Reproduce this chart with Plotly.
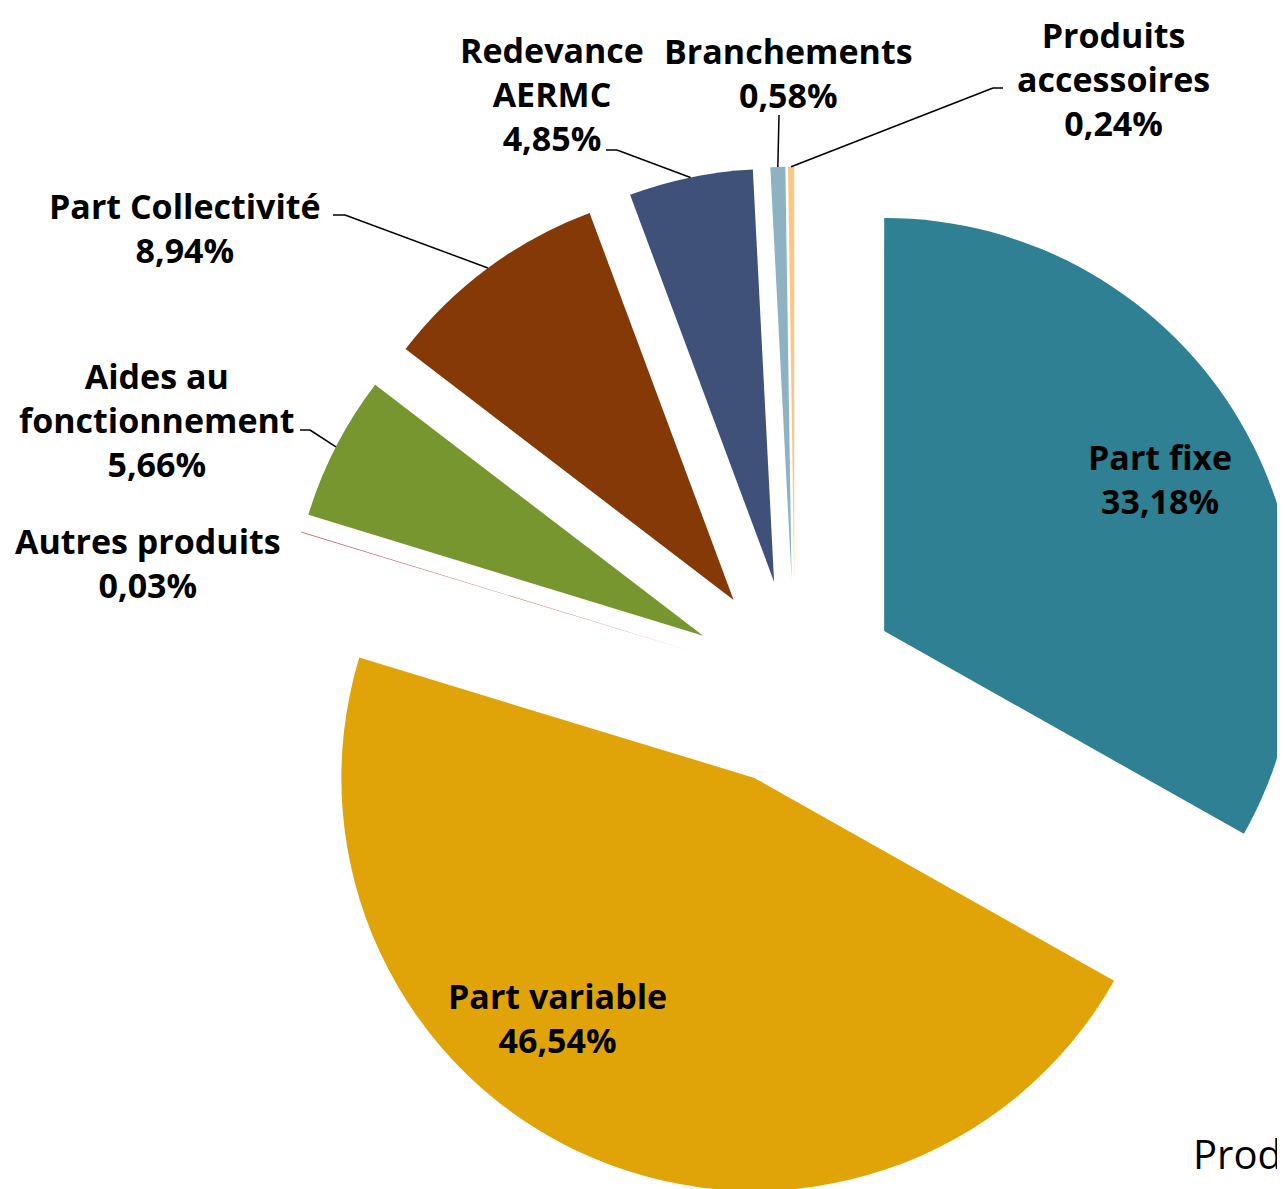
import math
import plotly.graph_objects as go

# ---- data ----
labels = ["Part fixe", "Part variable", "Autres produits", "Aides au fonctionnement",
          "Part Collectivité", "Redevance AERMC", "Branchements", "Produits accessoires"]
values = [33.18, 46.54, 0.03, 5.66, 8.94, 4.85, 0.58, 0.24]
pct_text = ["33,18%", "46,54%", "0,03%", "5,66%", "8,94%", "4,85%", "0,58%", "0,24%"]
colors = ["#2E8092", "#E1A408", "#C0504D", "#77962F", "#843906", "#3F5079", "#8DB3C3", "#FAC882"]
title_fragment = "Prod"

# ---- layout geometry (pixels, in screenshot coordinates) ----
W, H = 1312, 1200
OFF = 8  # page body margin
R = 413.0
PULL = 0.25
CX, CY = 795.0, 683.0
side = 2 * R * (1 + PULL)

def px(x):
    return (x - OFF) / W

def py(y):
    return 1 - (y - OFF) / H

FONT = "'Open Sans', Lato, sans-serif"
FS = 34
LS = 42.5

label_lines = {
    "Part fixe": ["Part fixe"],
    "Part variable": ["Part variable"],
    "Autres produits": ["Autres produits"],
    "Aides au fonctionnement": ["Aides au", "fonctionnement"],
    "Part Collectivité": ["Part Collectivité"],
    "Redevance AERMC": ["Redevance", "AERMC"],
    "Branchements": ["Branchements"],
    "Produits accessoires": ["Produits", "accessoires"],
}
# centre (x, y) of the first text line, in pixels
label_pos = {
    "Part fixe": (1160, 458),
    "Part variable": (557, 997),
    "Autres produits": (148, 542),
    "Aides au fonctionnement": (157, 377),
    "Part Collectivité": (185, 207),
    "Redevance AERMC": (552, 52),
    "Branchements": (789, 52),
    "Produits accessoires": (1113, 37),
}
leader = {
    "Aides au fonctionnement": [(300, 430), (310, 430)],
    "Part Collectivité": [(333, 215), (345, 215)],
    "Redevance AERMC": [(606, 150), (617, 150)],
    "Branchements": [(779, 115)],
    "Produits accessoires": [(1003, 88), (993, 88)],
}

fig = go.Figure(go.Pie(
    labels=labels, values=values, sort=False, direction="clockwise", rotation=0,
    marker=dict(colors=colors, line=dict(width=0)),
    pull=[PULL] * len(values), textinfo="none", hoverinfo="label+percent",
    domain=dict(x=[px(CX - side / 2), px(CX + side / 2)],
                y=[py(CY + side / 2), py(CY - side / 2)]),
    showlegend=False,
))

total = sum(values)
cum = 0.0
annotations = []
shapes = []
for lab, v, pt in zip(labels, values, pct_text):
    a0 = cum / total * 360
    cum += v
    a1 = cum / total * 360
    mid = math.radians((a0 + a1) / 2)
    ex = CX + R * (1 + PULL) * math.sin(mid)
    ey = CY - R * (1 + PULL) * math.cos(mid)
    x0, y0 = label_pos[lab]
    lines = label_lines[lab] + [pt]
    yc = y0 + (len(lines) - 1) * LS / 2
    annotations.append(dict(
        x=px(x0), y=py(yc), xref="paper", yref="paper",
        text="<br>".join(lines), showarrow=False, xanchor="center", yanchor="middle",
        align="center",
        font=dict(family=FONT, size=FS, color="black", weight="bold")))
    if lab in leader:
        pts = leader[lab] + [(ex, ey)]
        for (xa, ya), (xb, yb) in zip(pts[:-1], pts[1:]):
            shapes.append(dict(type="line", xref="paper", yref="paper",
                               x0=px(xa), y0=py(ya), x1=px(xb), y1=py(yb),
                               line=dict(color="black", width=1.5)))

annotations.append(dict(x=px(1191), y=py(1153), xref="paper", yref="paper",
                        text=title_fragment, showarrow=False, xanchor="left", yanchor="middle",
                        font=dict(family=FONT, size=40, color="black")))

fig.update_layout(width=W, height=H, margin=dict(l=0, r=0, t=0, b=0),
                  paper_bgcolor="white", plot_bgcolor="white",
                  annotations=annotations, shapes=shapes)

fig.write_html("out.html")
